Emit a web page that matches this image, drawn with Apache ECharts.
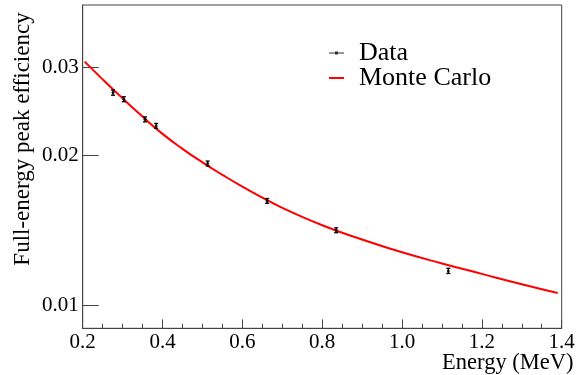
<!DOCTYPE html>
<html>
<head>
<meta charset="utf-8">
<script src="https://cdn.jsdelivr.net/npm/echarts@6/dist/echarts.min.js"></script>
<style>
html,body{margin:0;padding:0;background:#fff;}
#chart{width:577px;height:375px;}
</style>
</head>
<body>
<div id="chart"></div>
<script>
// Measured data points
var dataE   = [0.276, 0.303, 0.356, 0.384, 0.513, 0.662, 0.835, 1.116];
var dataEff = [0.0267, 0.0259, 0.0236, 0.0229, 0.01925, 0.0162, 0.01415, 0.01173];
var dataErr = [0.00032, 0.00030, 0.00027, 0.00026, 0.00022, 0.00018, 0.00016, 0.00014];
// Monte Carlo curve
var mcE   = [0.205, 0.25, 0.3, 0.35, 0.4, 0.45, 0.5, 0.55, 0.6, 0.65, 0.7, 0.8, 0.9, 1.0, 1.1, 1.2, 1.3, 1.39];
var mcEff = [0.0308, 0.02838, 0.0260, 0.0239, 0.02207, 0.0206, 0.01935, 0.01827, 0.0173, 0.01645, 0.01569, 0.01448, 0.01356, 0.01278, 0.01214, 0.01157, 0.01103, 0.01059];
// Axis ticks
var yTicks = [0.01, 0.02, 0.03];

var FONT = '"Liberation Serif", "Times New Roman", serif';

var scatterData = dataE.map(function(e, i){ return [e, dataEff[i]]; });
var errData = dataE.map(function(e, i){ return [e, dataEff[i] - dataErr[i], dataEff[i] + dataErr[i]]; });
var mcData = mcE.map(function(e, i){ return [e, mcEff[i]]; });

var chart = echarts.init(document.getElementById('chart'), null, {renderer:'canvas'});
chart.setOption({
  animation: false,
  backgroundColor: '#fff',
  grid: {left: 82.7, right: 15.3, top: 5, bottom: 46.7, containLabel: false, outerBoundsMode: 'none',
    show: true, borderColor: '#444', borderWidth: 1},
  legend: {
    orient: 'vertical', left: 329, top: 40, padding: 0, itemGap: -1,
    itemWidth: 15, itemHeight: 3,
    textStyle: {fontFamily: FONT, fontSize: 26, color: '#000', padding: [0,0,0,10]},
    data: [
      {name: 'Data', icon: 'path://M0,1 L15,1 L15,2 L0,2 Z M6,0 L9,0 L9,3 L6,3 Z'},
      {name: 'Monte Carlo', icon: 'path://M0,0.5 L15,0.5 L15,2.5 L0,2.5 Z'}
    ]
  },
  xAxis: {
    type: 'value', min: 0.2, max: 1.4, interval: 0.2,
    axisLine: {lineStyle: {color: '#444', width: 1}},
    axisTick: {inside: true, length: 9, lineStyle: {color: '#444'}},
    minorTick: {show: true, splitNumber: 4, length: 4.5, lineStyle: {color: '#444'}},
    splitLine: {show: false},
    axisLabel: {fontFamily: FONT, fontSize: 21, color: '#000', margin: 4,
      formatter: function(v){ return v.toFixed(1); }}
  },
  yAxis: {
    type: 'log', logBase: 10, min: 0.009, max: 0.04,
    axisLine: {show: true, lineStyle: {color: '#444', width: 1}},
    axisTick: {show: true, inside: true, length: 16, customValues: yTicks, lineStyle: {color: '#444'}},
    minorTick: {show: false},
    splitLine: {show: false},
    axisLabel: {fontFamily: FONT, fontSize: 21, color: '#000', margin: 4, customValues: yTicks,
      formatter: function(v){ return String(Math.round(v*100)/100); }}
  },
  graphic: [{
    type: 'text', x: 23, y: 139, rotation: Math.PI/2,
    style: {text: 'Full-energy peak efficiency', font: '23px ' + FONT, fill: '#000', align: 'center', verticalAlign: 'middle'}
  }, {
    type: 'text', x: 573.5, y: 363,
    style: {text: 'Energy (MeV)', font: '22.5px ' + FONT, fill: '#000', align: 'right', verticalAlign: 'middle'}
  }],
  series: [
    {
      name: 'Monte Carlo', type: 'line', data: mcData, smooth: true, symbol: 'none',
      color: '#ff0000', lineStyle: {color: '#ff0000', width: 2}, z: 2
    },
    {
      name: 'DataErr', type: 'custom', data: errData, z: 3,
      renderItem: function(params, api){
        var x = api.value(0);
        var lo = api.coord([x, api.value(1)]);
        var hi = api.coord([x, api.value(2)]);
        var hw = 2;
        var st = {stroke: '#000', lineWidth: 1.3};
        return {type: 'group', children: [
          {type: 'line', shape: {x1: lo[0], y1: lo[1], x2: hi[0], y2: hi[1]}, style: st},
          {type: 'line', shape: {x1: lo[0]-hw, y1: lo[1], x2: lo[0]+hw, y2: lo[1]}, style: st},
          {type: 'line', shape: {x1: hi[0]-hw, y1: hi[1], x2: hi[0]+hw, y2: hi[1]}, style: st}
        ]};
      }
    },
    {
      name: 'Data', type: 'scatter', data: scatterData, symbol: 'circle', symbolSize: 3,
      color: '#000', itemStyle: {color: '#000'}, z: 4
    }
  ]
});
</script>
</body>
</html>
